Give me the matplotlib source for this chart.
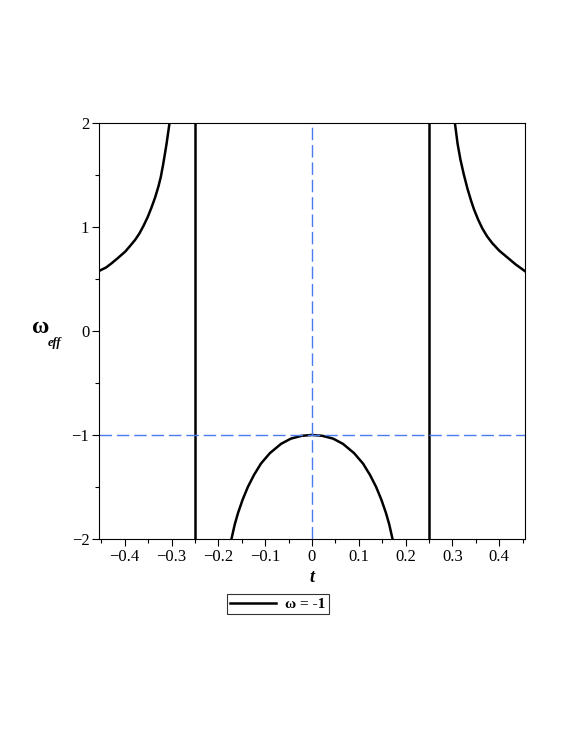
import matplotlib.pyplot as plt
import numpy as np

# valores
t_izq = [-0.455, -0.440, -0.428, -0.415, -0.399, -0.390, -0.378, -0.369, -0.360,
         -0.351, -0.343, -0.335, -0.328, -0.323, -0.318, -0.311, -0.304]
w_izq = [0.577, 0.610, 0.651, 0.700, 0.763, 0.810, 0.875, 0.935, 1.010,
         1.095, 1.185, 1.285, 1.390, 1.480, 1.600, 1.790, 2.010]

t_der = [0.305, 0.311, 0.317, 0.324, 0.332, 0.340, 0.346, 0.355, 0.364, 0.374,
         0.385, 0.400, 0.416, 0.435, 0.455]
w_der = [2.010, 1.800, 1.650, 1.510, 1.370, 1.250, 1.170, 1.070, 0.985, 0.910,
         0.845, 0.772, 0.712, 0.640, 0.575]

t_cen = [-0.172, -0.165, -0.158, -0.148, -0.137, -0.124, -0.109, -0.090, -0.066,
         -0.045, -0.022, 0.0, 0.022, 0.045, 0.066, 0.090, 0.109, 0.124, 0.137,
         0.148, 0.158, 0.165, 0.172]
w_cen = [-2.00, -1.86, -1.75, -1.62, -1.50, -1.385, -1.275, -1.175, -1.085,
         -1.035, -1.008, -1.00, -1.008, -1.035, -1.085, -1.175, -1.275, -1.385,
         -1.50, -1.62, -1.75, -1.86, -2.00]

t_asint = [-0.25, 0.25]
w_ref = -1
t_ref = 0

plt.rcParams['font.family'] = ['Liberation Serif', 'DejaVu Serif']
plt.rcParams['axes.unicode_minus'] = True

fig = plt.figure(figsize=(5.65, 7.32), dpi=100)
ax = fig.add_axes([0.1752, 0.2637, 0.754, 0.5683])

negro = "black"
azul = "#4a7bf0"

linea, = ax.plot(t_izq, w_izq, color=negro, lw=1.8)
ax.plot(t_der, w_der, color=negro, lw=1.8)
ax.plot(t_cen, w_cen, color=negro, lw=1.8)
for ta in t_asint:
    ax.axvline(ta, color=negro, lw=1.8)

ax.axhline(w_ref, color=azul, lw=1, dashes=(9, 3.5))
ax.axvline(t_ref, color=azul, lw=1, dashes=(9, 3.5))

ax.set_xlim(-0.455, 0.455)
ax.set_ylim(-2, 2)
ax.set_xticks([-0.4, -0.3, -0.2, -0.1, 0, 0.1, 0.2, 0.3, 0.4])
ax.set_xticklabels(["\u22120.4", "\u22120.3", "\u22120.2", "\u22120.1", "0",
                    "0.1", "0.2", "0.3", "0.4"])
ax.set_xticks(np.arange(-0.45, 0.46, 0.05), minor=True)
ax.set_yticks([-2, -1, 0, 1, 2])
ax.set_yticklabels(["\u22122", "\u22121", "0", "1", "2"])
ax.set_yticks([-1.5, -0.5, 0.5, 1.5], minor=True)
ax.tick_params(axis="both", which="major", length=5, width=0.8, labelsize=12, pad=2)
ax.tick_params(axis="both", which="minor", length=3, width=0.8)
ax.tick_params(top=False, right=False)
for s in ax.spines.values():
    s.set_linewidth(0.8)

ax.set_xlabel("t", fontsize=13, fontweight="bold", style="italic", labelpad=3)
fig.text(0.056, 0.553, "\u03c9", fontsize=17, fontweight="bold",
         ha="left", va="center")
fig.text(0.084, 0.531, "eff", fontsize=9, fontweight="bold", style="italic",
         ha="left", va="center")

leg = fig.legend([linea], ["\u03c9 = -1"], loc="center",
                 bbox_to_anchor=(0.492, 0.1745), frameon=True, fancybox=False,
                 edgecolor="black", handlelength=3.0, borderpad=0.2,
                 handletextpad=0.6, prop={"weight": "bold", "size": 11})
leg.get_frame().set_linewidth(0.8)

plt.savefig("out.png", dpi=100)
